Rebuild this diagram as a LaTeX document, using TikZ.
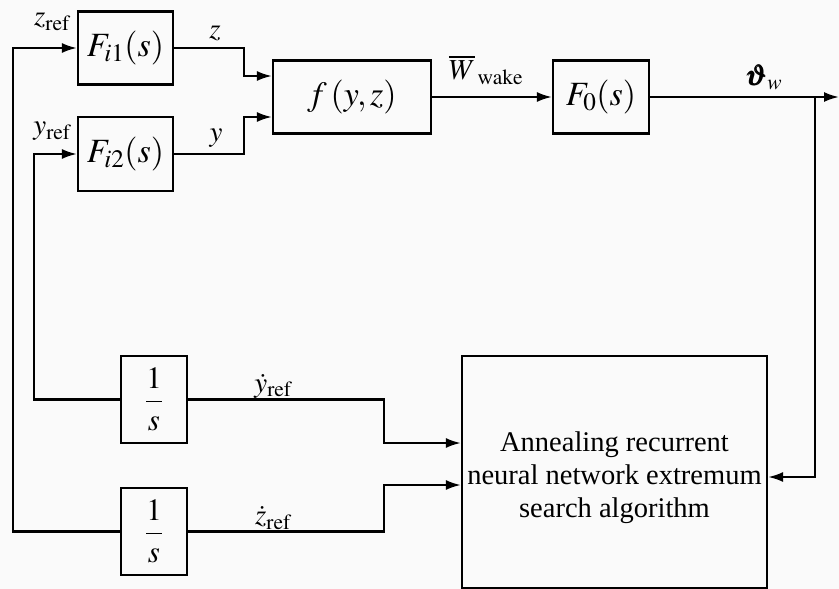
\documentclass[tikz,border=0pt]{standalone}
\usepackage{amsmath}
\usepackage{mathptmx}
\usepackage{fontspec}
\setmainfont{Liberation Serif}
\usepackage{tikz}
\usetikzlibrary{arrows.meta}

\begin{document}
\begin{tikzpicture}[x=1pt,y=-1pt,line width=2.2pt,
  blk/.style={draw,minimum width=#1,inner sep=0pt,font=\fontsize{34}{38}\selectfont},
  sig/.style={-{Latex[length=15pt,width=10pt]}},
  lbl/.style={font=\fontsize{29}{32}\selectfont,inner sep=0pt}]
\useasboundingbox[fill=white!98!black] (0,0) rectangle (839,589);
% 主回路
\node[blk=95,minimum height=73] (Fi1) at (125.5,48) {$F_{i1}(s)$};
\node[blk=95,minimum height=74] (Fi2) at (125.5,154) {$F_{i2}(s)$};
\node[blk=158,minimum height=73] (f) at (352,97) {$f\,(y,z)$};
\node[blk=96,minimum height=73] (F0) at (601,97) {$F_0(s)$};
% 积分环节与寻优算法
\node[blk=66,minimum height=87,font=\fontsize{31}{36}\selectfont] (int1) at (154,399.5) {$\dfrac{1}{s}$};
\node[blk=66,minimum height=87,font=\fontsize{31}{36}\selectfont] (int2) at (154,531.5) {$\dfrac{1}{s}$};
\node[blk=305,minimum height=232] (alg) at (614.5,472) {};
\node[align=center,font=\fontsize{28.5}{33}\selectfont,inner sep=0pt] (algtxt) at ([yshift=-6pt]alg.center)
  {Annealing recurrent\\neural network extremum\\search algorithm};
\coordinate (zl) at (13,0);
\coordinate (yl) at (34,0);
\coordinate (fb) at (815,97);
\coordinate (out) at (839,97);
% 连线
\draw[sig] (int2.west) -- (int2.west -| zl) |- (Fi1.west);
\draw[sig] (int1.west) -- (int1.west -| yl) |- (Fi2.west);
\draw[sig] (Fi1.east) -- ++(70,0) |- ([yshift=21pt]f.west);
\draw[sig] (Fi2.east) -- ++(70,0) |- ([yshift=-20pt]f.west);
\draw[sig] (f) -- (F0);
\draw[sig] (F0.east) -- (out);
\draw[sig] (fb) |- ([yshift=-5pt]alg.east);
\draw[sig] (int1.east) -- ++(196,0) |- ([yshift=29pt]alg.west);
\draw[sig] (int2.east) -- ++(196,0) |- ([yshift=-13pt]alg.west);
% 信号名
\node[lbl] (zref) at (52,22) {$z_{\mathrm{ref}}$};
\node[lbl] (yref) at (52,131) {$y_{\mathrm{ref}}$};
\node[lbl] (zs) at (215,33) {$z$};
\node[lbl] (ys) at (216,138) {$y$};
\node[lbl] (Ws) at (486,70) {$\overline{W}_{\,\mathrm{wake}}$};
\node[lbl] (th) at (764,77) {$\pmb{\vartheta}_w$};
\node[lbl] (dy) at (273,386) {$\dot{y}_{\mathrm{ref}}$};
\node[lbl] (dz) at (273,518) {$\dot{z}_{\mathrm{ref}}$};
\end{tikzpicture}
\end{document}
